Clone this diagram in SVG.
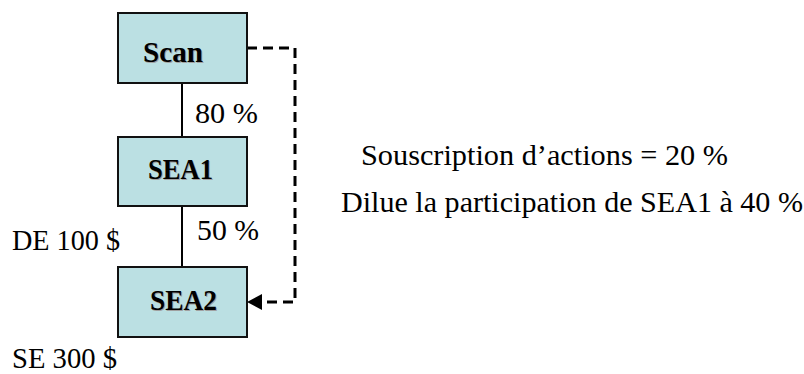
<svg xmlns="http://www.w3.org/2000/svg" width="804" height="374" viewBox="0 0 804 374">
<style>
.box{fill:#bbe0e3;stroke:#111;stroke-width:2}
.lbl{font-family:"Liberation Serif",serif;font-weight:bold;font-size:29px;fill:#000}
.sh{font-family:"Liberation Serif",serif;font-weight:bold;font-size:29px;fill:#a0a0a0}
.t{font-family:"Liberation Serif",serif;font-size:30px;fill:#000}
.solid{stroke:#000;stroke-width:2;fill:none}
.dash{stroke:#000;stroke-width:3;fill:none;stroke-dasharray:10 6}
</style>
<rect width="804" height="374" fill="#fff"/>
<g id="connectors">
<line class="solid" x1="182" y1="83" x2="182" y2="137"/>
<line class="solid" x1="182" y1="206" x2="182" y2="267"/>
<path class="dash" d="M247,48 H295 V302 H263"/>
<path d="M247,302 L262,294 L262,310 Z" fill="#000"/>
</g>
<g id="scan">
<rect class="box" x="118" y="13" width="129" height="70"/>
<text class="sh" x="144" y="63" textLength="60" lengthAdjust="spacingAndGlyphs">Scan</text>
<text class="lbl" x="143" y="62" textLength="60" lengthAdjust="spacingAndGlyphs">Scan</text>
</g>
<g id="sea1">
<rect class="box" x="118" y="137" width="129" height="69"/>
<text class="sh" x="149" y="180" textLength="65" lengthAdjust="spacingAndGlyphs">SEA1</text>
<text class="lbl" x="148" y="179" textLength="65" lengthAdjust="spacingAndGlyphs">SEA1</text>
</g>
<g id="sea2">
<rect class="box" x="118" y="267" width="129" height="70"/>
<text class="sh" x="151" y="311" textLength="67" lengthAdjust="spacingAndGlyphs">SEA2</text>
<text class="lbl" x="150" y="310" textLength="67" lengthAdjust="spacingAndGlyphs">SEA2</text>
</g>
<g id="labels">
<text class="t" x="195" y="123" textLength="63" lengthAdjust="spacingAndGlyphs">80 %</text>
<text class="t" x="197" y="240" textLength="62" lengthAdjust="spacingAndGlyphs">50 %</text>
<text class="t" x="12" y="250" textLength="108" lengthAdjust="spacingAndGlyphs">DE 100 $</text>
<text class="t" x="12" y="368" textLength="105" lengthAdjust="spacingAndGlyphs">SE 300 $</text>
<text class="t" x="361" y="165" textLength="367" lengthAdjust="spacingAndGlyphs">Souscription d’actions = 20 %</text>
<text class="t" x="341" y="212" textLength="462" lengthAdjust="spacingAndGlyphs">Dilue la participation de SEA1 à 40 %</text>
</g>
</svg>
